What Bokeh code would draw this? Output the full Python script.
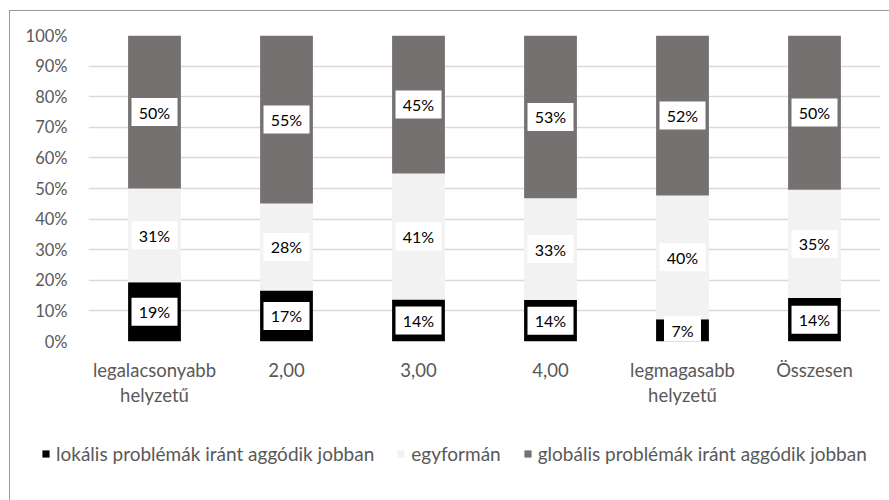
from bokeh.plotting import figure
from bokeh.layouts import column
from bokeh.models import FixedTicker, Legend, ColumnDataSource
from bokeh.core.properties import value
from bokeh.embed import file_html
from bokeh.resources import INLINE

categories = ["legalacsonyabb\nhelyzetű", "2,00", "3,00", "4,00", "legmagasabb\nhelyzetű", "Összesen"]
series_names = ["lokális problémák iránt aggódik jobban", "egyformán", "globális problémák iránt aggódik jobban"]
lokalis = [19.4, 16.7, 13.7, 13.6, 7.3, 14.2]
egyforman = [30.6, 28.4, 41.2, 33.2, 40.4, 35.4]
globalis = [50.0, 54.9, 45.1, 53.2, 52.3, 50.4]
y_ticks = [0, 10, 20, 30, 40, 50, 60, 70, 80, 90, 100]
y_tick_labels = ["0%", "10%", "20%", "30%", "40%", "50%", "60%", "70%", "80%", "90%", "100%"]

colors = ["#000000", "#f2f2f2", "#767171"]
FONT = "Lato"
TXT = "#595959"

xs = list(range(len(categories)))
src = ColumnDataSource(dict(x=xs, lok=lokalis, egy=egyforman, glo=globalis))

p = figure(width=879, height=409, output_backend="svg", toolbar_location=None,
           x_range=(-0.5, len(categories) - 0.5), y_range=(0, 100),
           min_border_left=78, min_border_right=9, min_border_top=24, min_border_bottom=79)
p.outline_line_color = None
p.xgrid.grid_line_color = None
p.ygrid.grid_line_color = "#d9d9d9"
p.ygrid.grid_line_width = 1.5

renderers = p.vbar_stack(["lok", "egy", "glo"], x="x", width=0.4, source=src,
                         color=colors, line_color=None)

# data labels
bottoms = [0.0] * len(categories)
lx, ly, lt, lw = [], [], [], []
for vals in (lokalis, egyforman, globalis):
    for i, v in enumerate(vals):
        lx.append(xs[i])
        ly.append(bottoms[i] + v / 2.0)
        t = "%d%%" % int(round(v))
        lt.append(t)
        lw.append(19 + 9 * len(t))
        bottoms[i] += v
lsrc = ColumnDataSource(dict(x=lx, y=ly, t=lt, w=lw))
p.rect(x="x", y="y", width="w", height=28, width_units="screen", height_units="screen",
       source=lsrc, fill_color="white", line_color=None)
p.text(x="x", y="y", text="t", source=lsrc, text_align="center", text_baseline="middle",
       text_font=value(FONT), text_font_size="16px", text_color="#000000")

# axes
p.yaxis.ticker = FixedTicker(ticks=y_ticks)
p.yaxis.major_label_overrides = {t: l for t, l in zip(y_ticks, y_tick_labels)}
p.xaxis.ticker = FixedTicker(ticks=xs)
p.xaxis.major_label_overrides = {i: c for i, c in zip(xs, categories)}
for ax in (p.xaxis, p.yaxis):
    ax.axis_line_color = None
    ax.major_tick_line_color = None
    ax.minor_tick_line_color = None
    ax.major_label_text_font = FONT
    ax.major_label_text_color = TXT
p.yaxis.major_label_text_font_size = "16.5px"
p.xaxis.major_label_text_font_size = "18.5px"
p.xaxis.major_label_text_line_height = 1.15
p.yaxis.major_label_standoff = 15
p.xaxis.major_label_standoff = 11

# legend in a separate strip below the chart (hidden copies of the series)
lf = figure(width=879, height=80, output_backend="svg", toolbar_location=None,
            x_range=(-0.5, len(categories) - 0.5), y_range=(0, 100),
            x_axis_location=None, y_axis_location=None, min_border=0)
lf.outline_line_color = None
lf.xgrid.grid_line_color = None
lf.ygrid.grid_line_color = None
leg_rs = lf.vbar_stack(["lok", "egy", "glo"], x="x", width=0.4, source=src,
                       color=colors, line_color=None)
for r in leg_rs:
    r.visible = False

if "frame_align" in lf.properties():
    lf.frame_align = False
    p.frame_align = False
    leg_loc, leg_fs = (31, 35), "19px"
else:
    leg_loc, leg_fs = (0, 35), "17.5px"

legend = Legend(items=[(n, [r]) for n, r in zip(series_names, leg_rs)],
                orientation="horizontal", location=leg_loc,
                glyph_width=9, glyph_height=9, label_standoff=6, spacing=22,
                label_text_font=FONT, label_text_font_size=leg_fs, label_text_color=TXT,
                border_line_color=None, background_fill_alpha=0,
                inactive_fill_alpha=0, padding=4, margin=0)
lf.add_layout(legend, "center")

layout = column(p, lf, spacing=0,
                styles={"margin-left": "9px", "margin-top": "10px",
                        "border-left": "1px solid #9a9a9a", "border-top": "1px solid #9a9a9a"})

open("out.html", "w").write(file_html(layout, INLINE))
